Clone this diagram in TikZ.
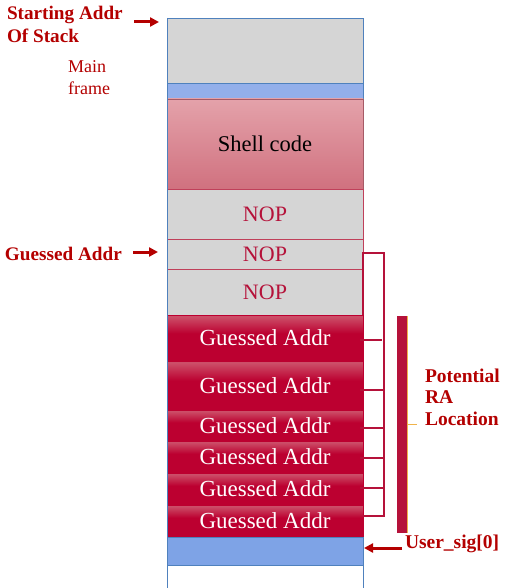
\documentclass[tikz,border=0pt]{standalone}
\usepackage{fontspec}
\setmainfont{Liberation Serif}
\usetikzlibrary{arrows.meta}
\definecolor{cellgray}{HTML}{D5D5D5}
\definecolor{bandblue}{HTML}{93AFEA}
\definecolor{bandblueb}{HTML}{7EA3E6}
\definecolor{edgeblue}{HTML}{4F81BD}
\definecolor{shelltop}{HTML}{E4A2AA}
\definecolor{shellbot}{HTML}{D0717F}
\definecolor{gadark}{HTML}{BC0030}
\definecolor{galight}{HTML}{CC4E68}
\definecolor{labred}{HTML}{B40000}
\definecolor{nopred}{HTML}{B5123A}
\definecolor{edgered}{HTML}{C0405A}
\definecolor{barred}{HTML}{B5123A}
\definecolor{barorange}{HTML}{F0B34A}
\pgfdeclareverticalshading{gashade}{100bp}{color(0bp)=(gadark); color(25bp)=(gadark); color(55bp)=(gadark); color(73bp)=(galight); color(100bp)=(galight)}
\tikzset{
  cell/.style={draw=edgered, line width=0.7pt, inner sep=0pt, outer sep=0pt, minimum width=196pt, anchor=north west},
  gacell/.style={cell, shading=gashade, draw=gadark, text=white, font=\fontsize{23}{27}\selectfont},
  nopcell/.style={cell, fill=cellgray, text=nopred, font=\fontsize{22}{27}\selectfont},
  bluecell/.style={cell, draw=edgeblue},
  lab/.style={text=labred, font=\bfseries\fontsize{19.2}{23}\selectfont, inner sep=0pt, outer sep=0pt, align=left},
  arr/.style={draw=labred, line width=3pt, -{Triangle[length=9pt,width=9pt]}},
  brk/.style={draw=barred, line width=1.4pt},
}
\begin{document}
\begin{tikzpicture}[x=1pt,y=-1pt]
\useasboundingbox[fill=white] (0,0) rectangle (508,588);
% stack cells
\node[bluecell, fill=cellgray, minimum height=65pt] (top) at (167,18) {};
\node[bluecell, fill=bandblue, minimum height=16pt] (band1) at (167,83) {};
\node[cell, draw=shellbot!80!black, top color=shelltop, bottom color=shellbot, minimum height=90pt, font=\fontsize{22.5}{27}\selectfont] (shell) at (167,99) {Shell code};
\node[nopcell, minimum height=50pt] (nop1) at (167,189) {NOP};
\node[nopcell, minimum height=30pt] (nop2) at (167,239) {NOP};
\node[nopcell, minimum height=46pt] (nop3) at (167,269) {NOP};
\node[gacell, minimum height=46pt] (ga1) at (167,315) {Guessed Addr};
\node[gacell, minimum height=49pt] (ga2) at (167,361) {Guessed Addr};
\node[gacell, minimum height=31pt] (ga3) at (167,410) {Guessed Addr};
\node[gacell, minimum height=32pt] (ga4) at (167,441) {Guessed Addr};
\node[gacell, minimum height=32pt] (ga5) at (167,473) {Guessed Addr};
\node[gacell, minimum height=32pt] (ga6) at (167,505) {Guessed Addr};
\node[bluecell, fill=bandblueb, minimum height=28pt] (band2) at (167,537) {};
\node[bluecell, fill=white, minimum height=30pt] (bottom) at (167,565) {};
\draw[edgeblue, line width=0.8pt] (top.north west) -- (bottom.south west);
% bracket of potential RA locations
\coordinate (bt) at (384,253);
\coordinate (bb) at (384,516);
\draw[brk] (nop3.south east) -- (nop2.east |- bt) -- (bt) -- (bb) -- (ga6.east |- bb);
\coordinate (t1) at (384,340);
\coordinate (t2) at (384,390);
\coordinate (t3) at (384,428);
\coordinate (t4) at (384,458);
\coordinate (t5) at (384,488);
\draw[brk, line width=2pt] ([xshift=-3pt]ga1.east |- t1) -- ([xshift=-2pt]t1);
\draw[brk, line width=2pt] ([xshift=-3pt]ga2.east |- t2) -- (t2);
\draw[brk, line width=2pt] ([xshift=-3pt]ga3.east |- t3) -- (t3);
\draw[brk, line width=2pt] ([xshift=-3pt]ga4.east |- t4) -- (t4);
\draw[brk, line width=2pt] ([xshift=-3pt]ga5.east |- t5) -- (t5);
% thick bar
\node[fill=barred, inner sep=0pt, outer sep=0pt, minimum width=10pt, minimum height=217pt, anchor=north west] (bar) at (397,316) {};
\draw[barorange, line width=0.8pt] (bar.north east) -- (bar.south east);
\coordinate (tk) at (417,424);
\draw[barorange, line width=1pt] (bar.east |- tk) -- (tk);
% labels
\node[lab, anchor=north west] (start) at (7,6.5) {Starting Addr\\Of Stack};
\node[text=labred, font=\fontsize{18}{22}\selectfont, inner sep=0pt, align=left, anchor=north west] (mf) at (68,60.8) {Main\\frame};
\node[lab, anchor=base west] (gl) at (5,260) {Guessed Addr};
\node[lab, anchor=north west, font=\bfseries\fontsize{19.5}{21.7}\selectfont] (pra) at (425,368.5) {Potential\\RA\\Location};
\node[lab, anchor=base west, font=\bfseries\fontsize{19.5}{23}\selectfont] (usig) at (405,548) {User\_sig[0]};
% arrows
\coordinate (sa1) at (134,22); \coordinate (sa2) at (159,22);
\draw[arr] (sa1) -- (sa2);
\coordinate (ga1a) at (133,252); \coordinate (ga1b) at (158,252);
\draw[arr] (ga1a) -- (ga1b);
\coordinate (ua) at (402,548);
\draw[arr] (ua) -- ([xshift=1pt]band2.east |- ua);
\end{tikzpicture}
\end{document}
